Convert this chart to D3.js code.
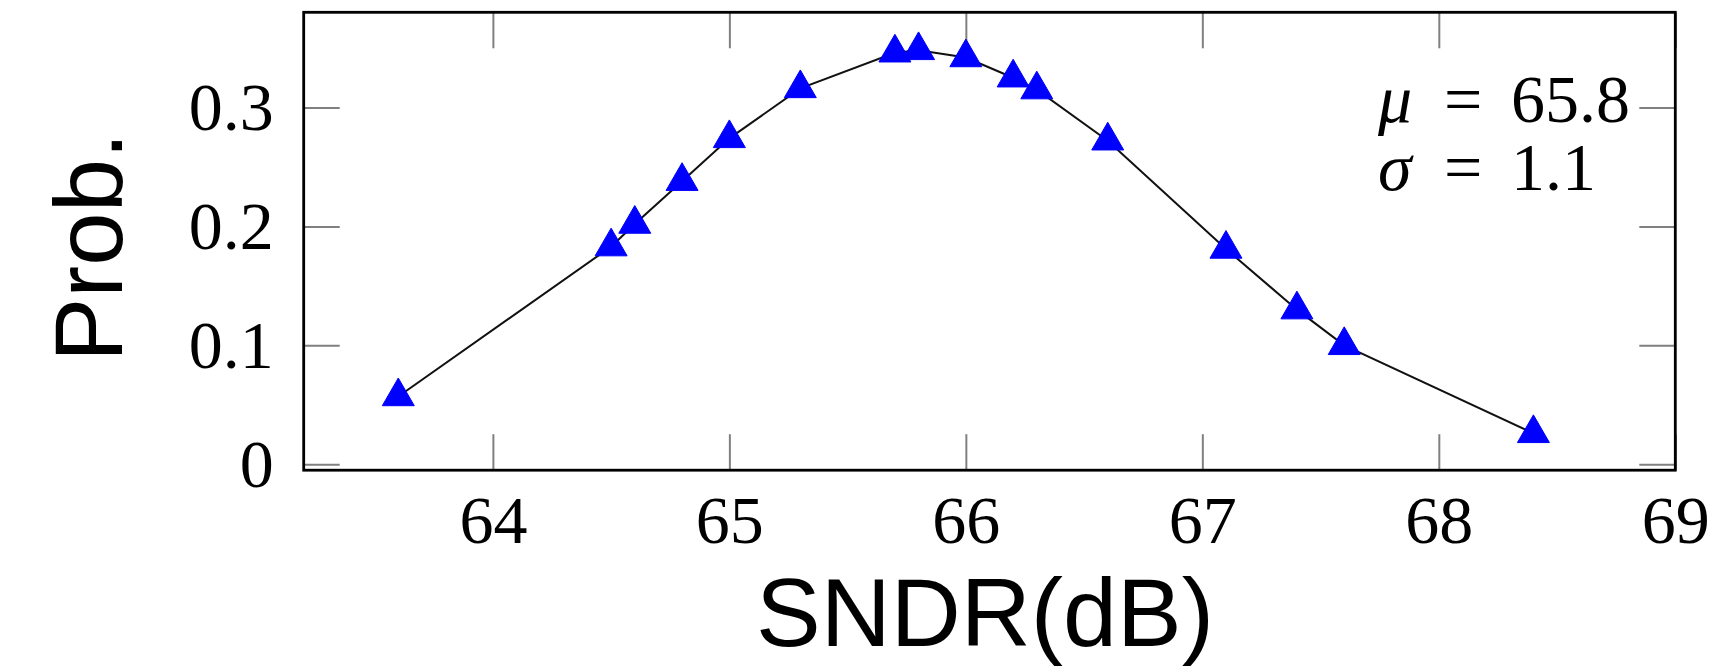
<!DOCTYPE html>
<html>
<head>
<meta charset="utf-8">
<script src="https://cdn.jsdelivr.net/npm/d3@7"></script>
<style>
  html, body { margin: 0; padding: 0; background: #fff; }
  svg { display: block; }
</style>
</head>
<body>
<script>
// SNDR distribution samples
const sndr = [63.6, 64.5, 64.6, 64.8, 65.0, 65.3, 65.7, 65.8, 66.0, 66.2, 66.3, 66.6, 67.1, 67.4, 67.6, 68.4];
const prob = [0.057, 0.183, 0.202, 0.238, 0.274, 0.316, 0.346, 0.348, 0.342, 0.325, 0.315, 0.272, 0.181, 0.130, 0.100, 0.026];
const xTicks = [64, 65, 66, 67, 68, 69];
const yTicks = [0, 0.1, 0.2, 0.3];
const statLabels = [["μ", "65.8"], ["σ", "1.1"]];

const W = 1731, H = 667;
const box = { left: 303.7, right: 1675.3, top: 12.3, bottom: 470.2 };
const serif = "'Liberation Serif', 'Times New Roman', serif";
const sans = "'Liberation Sans', Arial, sans-serif";

const svg = d3.select("body").append("svg").attr("width", W).attr("height", H);

const x = d3.scaleLinear().domain([63.2, 69]).range([box.left, box.right]);
const y = d3.scaleLinear().domain([-0.005, 0.38]).range([box.bottom, box.top]);

const tickLen = 36;
const fmt = d => String(d);

function styleAxis(g, showText) {
  g.select(".domain").remove();
  g.selectAll(".tick line").attr("stroke", "#808080").attr("stroke-width", 2);
  g.selectAll(".tick text")
    .attr("fill", "#000")
    .style("font-family", serif)
    .style("font-size", "68px");
  if (!showText) g.selectAll(".tick text").remove();
}

// bottom + top x ticks
svg.append("g").attr("transform", `translate(0,${box.bottom})`)
  .call(d3.axisBottom(x).tickValues(xTicks).tickFormat(fmt).tickSizeInner(-tickLen).tickSizeOuter(0).tickPadding(25))
  .call(g => styleAxis(g, true));
svg.append("g").attr("transform", `translate(0,${box.top})`)
  .call(d3.axisTop(x).tickValues(xTicks).tickSizeInner(-tickLen).tickSizeOuter(0))
  .call(g => styleAxis(g, false));

// left + right y ticks
svg.append("g").attr("transform", `translate(${box.left},0)`)
  .call(d3.axisLeft(y).tickValues(yTicks).tickFormat(fmt).tickSizeInner(-tickLen).tickSizeOuter(0).tickPadding(30))
  .call(g => styleAxis(g, true));
svg.append("g").attr("transform", `translate(${box.right},0)`)
  .call(d3.axisRight(y).tickValues(yTicks).tickSizeInner(-tickLen).tickSizeOuter(0))
  .call(g => styleAxis(g, false));

// frame
svg.append("rect")
  .attr("x", box.left).attr("y", box.top)
  .attr("width", box.right - box.left).attr("height", box.bottom - box.top)
  .attr("fill", "none").attr("stroke", "#000").attr("stroke-width", 2.8);

// data line
const pts = sndr.map((v, i) => [v, prob[i]]);
svg.append("path")
  .datum(pts)
  .attr("fill", "none")
  .attr("stroke", "#111")
  .attr("stroke-width", 2)
  .attr("d", d3.line().x(d => x(d[0])).y(d => y(d[1])));

// triangle markers
const tri = d3.symbol().type(d3.symbolTriangle).size(443);
svg.append("g").selectAll("path")
  .data(pts)
  .join("path")
  .attr("transform", d => `translate(${x(d[0])},${y(d[1])})`)
  .attr("d", tri)
  .attr("fill", "#0000ff")
  .attr("stroke", "#0000ff")
  .attr("stroke-width", 1);

// statistics annotation, one text line per statistic
const stat = svg.append("g")
  .style("font-family", serif).style("font-size", "68px").attr("fill", "#000");
statLabels.forEach((s, i) => {
  const by = 121.7 + i * 68.3;
  const t = stat.append("text").attr("y", by);
  t.append("tspan").attr("x", 1378).style("font-style", "italic").text(s[0]);
  t.append("tspan").attr("x", 1444).text("=");
  t.append("tspan").attr("x", 1511).text(s[1]);
});

// axis titles
svg.append("text")
  .attr("transform", `translate(122,247) rotate(-90)`)
  .attr("text-anchor", "middle")
  .style("font-family", sans).style("font-size", "96px")
  .attr("fill", "#000")
  .text("Prob.");

svg.append("text")
  .attr("x", 985).attr("y", 646)
  .attr("text-anchor", "middle")
  .style("font-family", sans).style("font-size", "97px")
  .attr("fill", "#000")
  .text("SNDR(dB)");
</script>
</body>
</html>
